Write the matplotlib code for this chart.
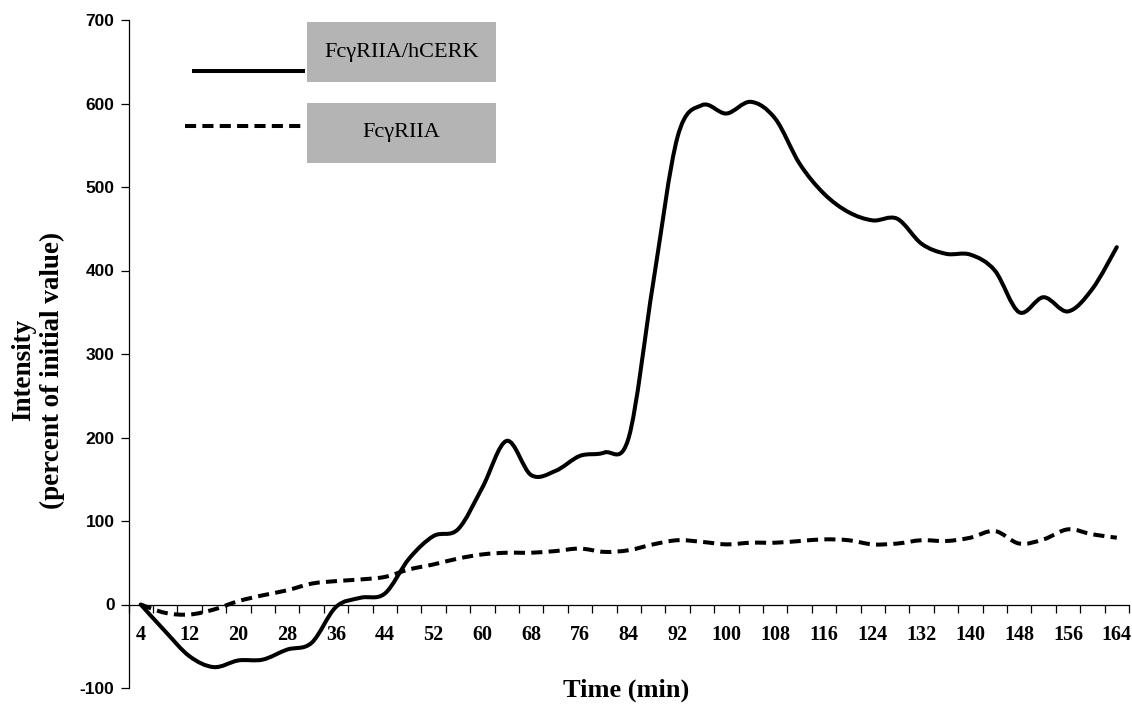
import numpy as np
import matplotlib
matplotlib.use("Agg")
import matplotlib.pyplot as plt
from matplotlib.path import Path
from matplotlib.patches import PathPatch, Rectangle
from matplotlib.lines import Line2D

plt.rcParams['lines.scale_dashes'] = False

# ---- data ----
time_min = list(range(4, 165, 4))
hcerk = [0, -32, -62, -75, -67, -66, -54, -46, -3, 8, 13, 55, 82, 90, 140, 196,
         155, 160, 178, 182, 200, 385, 560, 598, 588, 602, 582, 528, 492, 470,
         460, 462, 432, 420, 419, 400, 350, 368, 351, 378, 428]
fcr = [0, -10, -12, -6, 4, 11, 17, 25, 28, 30, 33, 42, 48, 55, 60, 62,
       62, 64, 67, 63, 65, 72, 77, 75, 72, 74, 74, 76, 78, 77,
       72, 73, 77, 76, 80, 88, 73, 78, 90, 84, 80]
x_label_vals = list(range(4, 165, 8))
y_ticks = list(range(-100, 701, 100))
series_names = ["FcγRIIA/hCERK", "FcγRIIA"]

W, H = 1132, 704
fig = plt.figure(figsize=(W / 100, H / 100), dpi=100)
ax = fig.add_axes([128.5 / W, 16 / H, 1000.5 / W, 668 / H])
ax.set_xlim(2, 166)
ax.set_ylim(-100, 700)


def smooth_path(x, y):
    pts = np.column_stack([x, y]).astype(float)
    n = len(pts)
    verts = [pts[0]]
    codes = [Path.MOVETO]
    for i in range(n - 1):
        p0 = pts[i - 1] if i > 0 else pts[i]
        p1 = pts[i]
        p2 = pts[i + 1]
        p3 = pts[i + 2] if i + 2 < n else pts[i + 1]
        c1 = p1 + (p2 - p0) / 6.0
        c2 = p2 - (p3 - p1) / 6.0
        verts += [c1, c2, p2]
        codes += [Path.CURVE4] * 3
    return Path(verts, codes)


ax.add_patch(PathPatch(smooth_path(time_min, fcr), fill=False, edgecolor='black',
                       lw=2.9, linestyle=(0, (8, 4.5)), capstyle='butt', zorder=3))
ax.add_patch(PathPatch(smooth_path(time_min, hcerk), fill=False, edgecolor='black',
                       lw=2.9, capstyle='round', joinstyle='round', zorder=4))

# spines
for s in ['top', 'right']:
    ax.spines[s].set_visible(False)
ax.spines['bottom'].set_position(('data', 0))
ax.spines['bottom'].set_linewidth(0.9)
ax.spines['left'].set_linewidth(0.9)

# x ticks: marks between categories, labels on every 2nd category
ax.set_xticks(np.arange(2, 167, 4))
ax.set_xticklabels([])
ax.tick_params(axis='x', which='major', direction='out', length=6, width=0.9)
ax.set_xticks(x_label_vals, minor=True)
ax.set_xticklabels([str(v) for v in x_label_vals], minor=True,
                   fontfamily='Liberation Serif', fontweight='bold', fontsize=14.5)
ax.tick_params(axis='x', which='minor', length=0, pad=15)

ax.set_yticks(y_ticks)
ax.set_yticklabels([str(v) for v in y_ticks], fontfamily='Liberation Sans',
                   fontweight='bold', fontsize=12.5)
ax.tick_params(axis='y', direction='out', length=6, width=0.9, pad=4)

# axis titles
fig.text(626 / W, 1 - 690 / H, "Time (min)", ha='center', va='center',
         fontfamily='Liberation Serif', fontweight='bold', fontsize=19)
fig.text(38 / W, 1 - 370 / H, "Intensity\n(percent of initial value)", rotation=90,
         ha='center', va='center', multialignment='center', linespacing=1.2,
         fontfamily='Liberation Serif', fontweight='bold', fontsize=19.5)

# legend (manual, like the original)
boxes = [(22, 82), (103, 163)]
styles = [dict(ls='-', x0=192), dict(ls=(0, (8, 4.5)), x0=185)]
line_y = [71, 126]
for (top, bot), name, st, ly in zip(boxes, series_names, styles, line_y):
    fig.patches.append(Rectangle((307 / W, 1 - bot / H), 189 / W, (bot - top) / H,
                                 transform=fig.transFigure, facecolor='#b4b4b4',
                                 edgecolor='none', zorder=5))
    fig.text(401.5 / W, 1 - (top + bot) / 2 / H, name, ha='center', va='center',
             fontfamily='Liberation Serif', fontsize=16, zorder=6)
    fig.lines.append(Line2D([st['x0'] / W, 305 / W], [1 - ly / H, 1 - ly / H],
                            transform=fig.transFigure, color='black', lw=2.9,
                            linestyle=st['ls'], solid_capstyle='butt',
                            dash_capstyle='butt'))

fig.savefig("out.png", dpi=100)
